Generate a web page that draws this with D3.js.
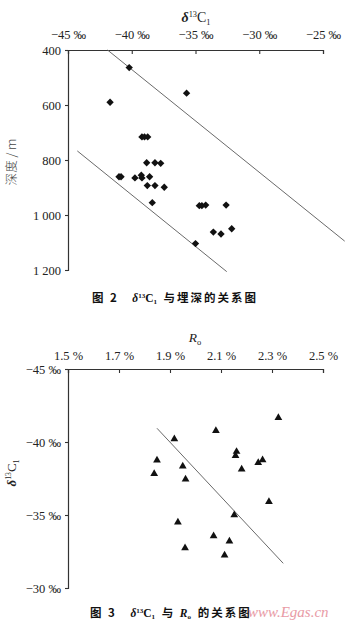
<!DOCTYPE html>
<html><head><meta charset="utf-8">
<script src="https://cdn.jsdelivr.net/npm/d3@7"></script>
<style>
html,body{margin:0;padding:0;background:#fff;}
svg{display:block;}
.serif{font-family:"Liberation Serif","DejaVu Serif",serif;}
</style></head>
<body>
<svg id="c" width="350" height="620"></svg>
<script>
// ---- Figure 2: δ13C1 vs burial depth ----
const topXTicks = [-45, -40, -35, -30, -25];
const topYTicks = [400, 600, 800, 1000, 1200];
const topYTickLabels = ["400", "600", "800", "1 000", "1 200"];
const c13Values = [-40.2,-41.7,-39.2,-39.0,-38.75,-38.83,-38.18,-37.73,-41.0,-40.84,-39.75,-39.25,-39.2,-38.6,-38.78,-38.18,-37.45,-38.39,-35.7,-34.7,-34.5,-34.2,-32.6,-33.6,-33.0,-32.16,-35.0];
const depthValues = [464,590,716,716,716,810,810,812,861,861,865,855,865,861,893,893,899,955,557,966,966,964,964,1062,1069,1050,1104];
const upperLineC13 = [-41.9, -23.3];
const upperLineDepth = [400, 1095];
const lowerLineC13 = [-44.27, -32.55];
const lowerLineDepth = [767, 1206];

// ---- Figure 3: δ13C1 vs Ro ----
const roTicks = [1.5, 1.7, 1.9, 2.1, 2.3, 2.5];
const roTickLabels = ["1.5 %", "1.7 %", "1.9 %", "2.1 %", "2.3 %", "2.5 %"];
const botYTicks = [-45, -40, -35, -30];
const roValues = [1.917,1.849,1.838,1.931,2.080,2.325,2.161,2.157,1.950,2.246,2.263,2.181,1.961,2.288,2.152,2.071,2.133,1.959,2.114];
const c13RoValues = [-40.2,-38.75,-37.83,-34.5,-40.77,-41.66,-39.34,-39.06,-38.34,-38.58,-38.77,-38.13,-37.45,-35.91,-35.0,-33.56,-33.2,-32.74,-32.24];
const trendRo = [1.849, 2.344];
const trendC13 = [-40.94, -31.69];

const svg = d3.select("#c");
const permil = v => "\u2212" + Math.abs(v) + " \u2030";
const AX = "#333", TXT = "#222", LINE = "#6a6a6a";

function styleAxis(g){
  g.attr("font-family", null).attr("font-size", null);
  g.selectAll("path").attr("stroke", AX).attr("stroke-width", 1.2);
  g.selectAll("line").attr("stroke", AX).attr("stroke-width", 1.1);
  g.selectAll("text").attr("font-family", "'Liberation Serif', serif").attr("font-size", 12.5).attr("fill", TXT);
}

function deltaLabel(parent, x, y, rotate, size){
  const t = parent.append("text").attr("class","serif")
    .attr("font-size", size).attr("fill", TXT).attr("text-anchor","middle")
    .attr("transform", `translate(${x},${y})` + (rotate ? " rotate(-90)" : ""));
  t.append("tspan").attr("font-style","italic").attr("font-weight","bold").text("\u03B4");
  t.append("tspan").attr("font-size", size*0.6).attr("dy", -size*0.38).text("13");
  t.append("tspan").attr("dy", size*0.38).text("C");
  t.append("tspan").attr("font-size", size*0.6).attr("dy", size*0.22).text("1");
  return t;
}

// ===== Top chart =====
{
  const x = d3.scaleLinear().domain([-45, -25]).range([68, 323]);
  const y = d3.scaleLinear().domain([400, 1200]).range([50, 270]);
  const g = svg.append("g");

  g.append("g").attr("transform", `translate(0,${y(400)})`)
    .call(d3.axisTop(x).tickValues(topXTicks).tickFormat(permil).tickSizeInner(-4).tickSizeOuter(-4).tickPadding(11))
    .call(styleAxis);
  g.append("g").attr("transform", `translate(${x(-45)},0)`)
    .call(d3.axisLeft(y).tickValues(topYTicks).tickFormat((d,i)=>topYTickLabels[i]).tickSizeInner(3).tickSizeOuter(3).tickPadding(4))
    .call(styleAxis);

  deltaLabel(g, 196, 22, false, 14);
  g.append("text").attr("transform","translate(16,162) rotate(-90)").attr("text-anchor","middle")
    .attr("font-family","Noto Sans CJK SC").attr("font-weight",300).attr("font-size",12.5).attr("fill","#444")
    .text("深度 / m");

  const line = d3.line().x(d=>x(d[0])).y(d=>y(d[1]));
  [[upperLineC13, upperLineDepth],[lowerLineC13, lowerLineDepth]].forEach(([xs, ys])=>{
    g.append("path").datum(xs.map((v,i)=>[v, ys[i]])).attr("d", line)
      .attr("fill","none").attr("stroke", LINE).attr("stroke-width", 1);
  });

  const diamond = d3.symbol().type(d3.symbolSquare).size(27);
  g.selectAll(".dia").data(c13Values.map((v,i)=>[v, depthValues[i]])).join("path")
    .attr("d", diamond)
    .attr("transform", d=>`translate(${x(d[0])},${y(d[1])}) rotate(45)`)
    .attr("fill", "#111");

  const cap = g.append("text").attr("x", 175).attr("y", 302).attr("text-anchor","middle")
    .attr("font-family","Noto Sans CJK SC").attr("font-weight","bold").attr("font-size",11.5).attr("fill","#111")
    .attr("letter-spacing", 2);
  cap.append("tspan").text("图 2\u2003");
  cap.append("tspan").attr("font-family","Liberation Serif").attr("font-style","italic").attr("letter-spacing",0).text("\u03B4");
  cap.append("tspan").attr("font-family","Liberation Serif").attr("font-size",7).attr("letter-spacing",0).attr("dy",-4).text("13");
  cap.append("tspan").attr("font-family","Liberation Serif").attr("letter-spacing",0).attr("dy",4).text("C");
  cap.append("tspan").attr("font-family","Liberation Serif").attr("font-size",7).attr("dy",2).text("1");
  cap.append("tspan").attr("dy",-2).text(" 与埋深的关系图");
}

// ===== Bottom chart =====
{
  const x = d3.scaleLinear().domain([1.5, 2.5]).range([68, 323]);
  const y = d3.scaleLinear().domain([-45, -30]).range([369, 588]);
  const g = svg.append("g");

  g.append("g").attr("transform", `translate(0,${y(-45)})`)
    .call(d3.axisTop(x).tickValues(roTicks).tickFormat((d,i)=>roTickLabels[i]).tickSizeInner(-4).tickSizeOuter(-4).tickPadding(9))
    .call(styleAxis);
  g.append("g").attr("transform", `translate(${x(1.5)},0)`)
    .call(d3.axisLeft(y).tickValues(botYTicks).tickFormat(permil).tickSizeInner(3).tickSizeOuter(3).tickPadding(4))
    .call(styleAxis);

  const ro = g.append("text").attr("class","serif").attr("x",195).attr("y",342).attr("text-anchor","middle")
    .attr("font-size",13.5).attr("fill",TXT);
  ro.append("tspan").attr("font-style","italic").text("R");
  ro.append("tspan").attr("font-size",8.5).attr("dy",3).text("o");

  deltaLabel(g, 16, 473, true, 13);

  g.append("path").datum(trendRo.map((v,i)=>[v, trendC13[i]]))
    .attr("d", d3.line().x(d=>x(d[0])).y(d=>y(d[1])))
    .attr("fill","none").attr("stroke", LINE).attr("stroke-width", 1);

  const tri = d3.symbol().type(d3.symbolTriangle).size(26);
  g.selectAll(".tri").data(roValues.map((v,i)=>[v, c13RoValues[i]])).join("path")
    .attr("d", tri)
    .attr("transform", d=>`translate(${x(d[0])},${y(d[1])})`)
    .attr("fill", "#111");

  const cap = g.append("text").attr("x", 90).attr("y", 617)
    .attr("font-family","Noto Sans CJK SC").attr("font-weight","bold").attr("font-size",11.5).attr("fill","#111")
    .attr("letter-spacing", 2);
  cap.append("tspan").text("图 3\u2003");
  cap.append("tspan").attr("font-family","Liberation Serif").attr("font-style","italic").attr("letter-spacing",0).text("\u03B4");
  cap.append("tspan").attr("font-family","Liberation Serif").attr("font-size",7).attr("letter-spacing",0).attr("dy",-4).text("13");
  cap.append("tspan").attr("font-family","Liberation Serif").attr("letter-spacing",0).attr("dy",4).text("C");
  cap.append("tspan").attr("font-family","Liberation Serif").attr("font-size",7).attr("dy",2).text("1");
  cap.append("tspan").attr("dy",-2).text(" 与 ");
  cap.append("tspan").attr("font-family","Liberation Serif").attr("font-style","italic").attr("letter-spacing",0).text("R");
  cap.append("tspan").attr("font-family","Liberation Serif").attr("font-size",7).attr("dy",2).text("o");
  cap.append("tspan").attr("dy",-2).text(" 的关系图");

  g.append("text").attr("x", 248).attr("y", 617)
    .attr("font-family","Liberation Serif").attr("font-style","italic").attr("font-size",15)
    .attr("fill","#e58a96").attr("opacity",0.85).text("www.Egas.cn");
}
</script>
</body></html>
